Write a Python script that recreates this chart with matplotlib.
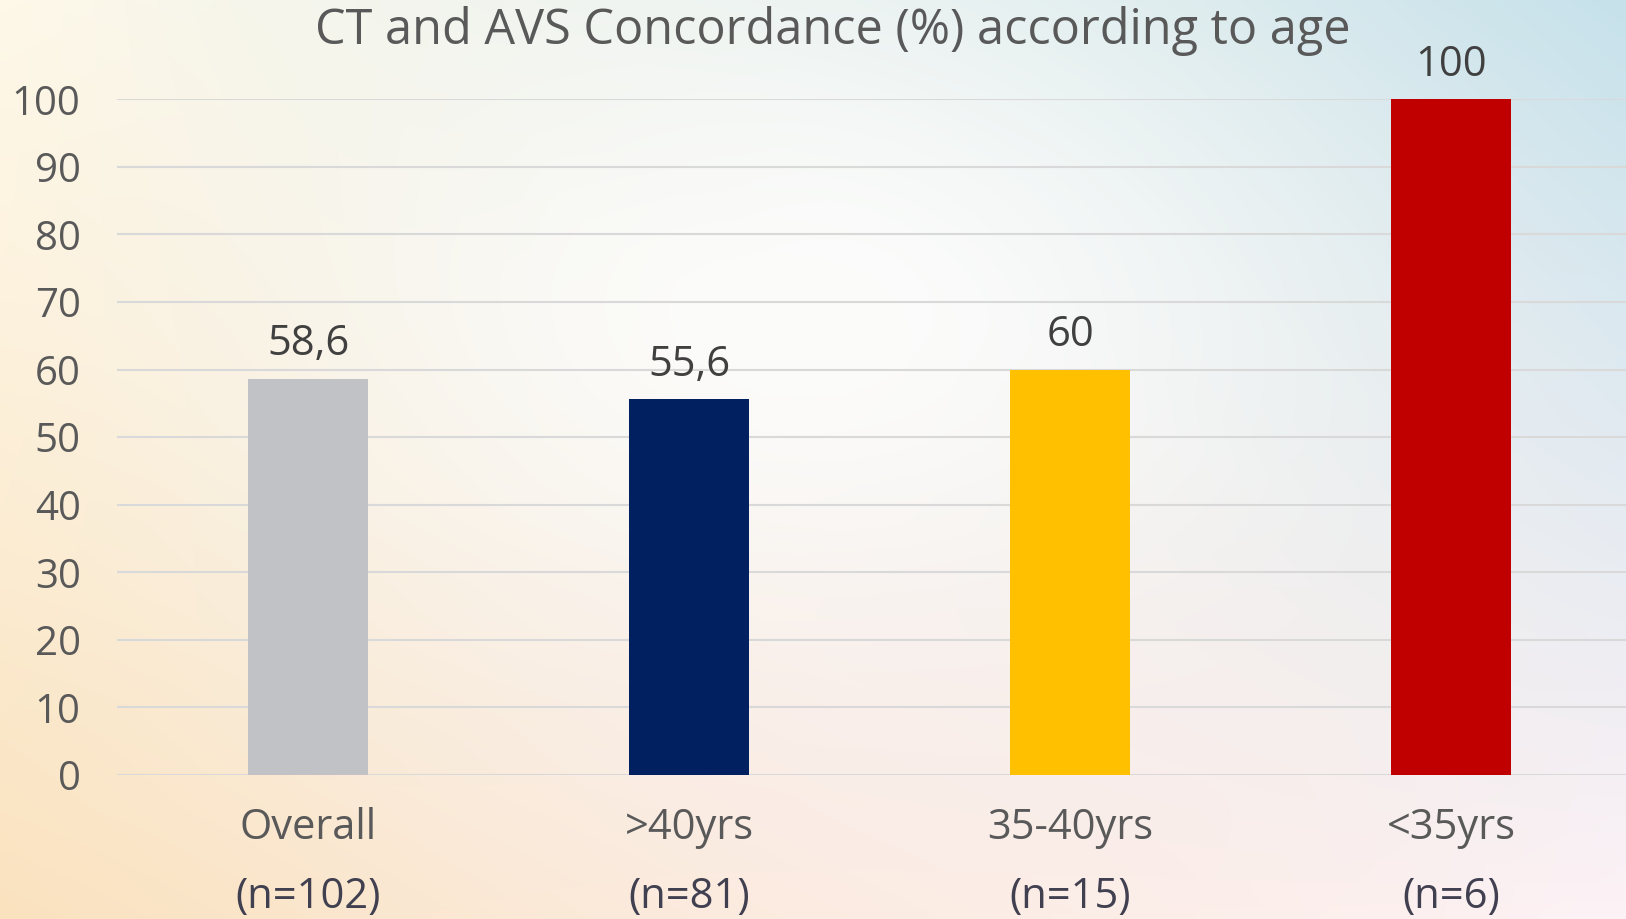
import numpy as np
import matplotlib
matplotlib.use("Agg")
from matplotlib import pyplot as plt
from matplotlib.transforms import blended_transform_factory

categories = ["Overall", ">40yrs", "35-40yrs", "<35yrs"]
sample_sizes = ["(n=102)", "(n=81)", "(n=15)", "(n=6)"]
concordance = [58.6, 55.6, 60, 100]
value_labels = ["58,6", "55,6", "60", "100"]
bar_colors = ["#C0C2C6", "#002060", "#FFC000", "#C00000"]

plt.rcParams['font.family'] = ['Open Sans', 'DejaVu Sans']

W, H = 1626, 919
fig = plt.figure(figsize=(W / 100, H / 100), dpi=100)

# soft slide-style background: warm left, blue top-right, pink bottom, white middle
gx, gy = np.meshgrid(np.linspace(0, 1, 400), np.linspace(0, 1, 230))
tl = np.array([254, 248, 232]) / 255
bl = np.array([250, 226, 190]) / 255
tr = np.array([196, 224, 234]) / 255
br = np.array([253, 242, 246]) / 255
bg = (tl * ((1 - gx) * (1 - gy))[..., None] + tr * (gx * (1 - gy))[..., None]
      + bl * ((1 - gx) * gy)[..., None] + br * (gx * gy)[..., None])
blob = np.exp(-(((gx - 0.5) / 0.33) ** 2 + ((gy - 0.35) / 0.4) ** 2))[..., None]
bg = bg * (1 - 0.85 * blob) + 0.85 * blob
pink = np.exp(-(((gx - 0.55) / 0.3) ** 2 + ((gy - 0.85) / 0.25) ** 2))[..., None]
bg = bg * (1 - 0.35 * pink) + np.array([252, 236, 240]) / 255 * 0.35 * pink
bgax = fig.add_axes([0, 0, 1, 1], zorder=-10)
bgax.imshow(bg, aspect='auto', extent=[0, 1, 0, 1], interpolation='bicubic')
bgax.axis('off')

left = 116.7 / W
bottom = (H - 775) / H
top = (H - 99.3) / H
ax = fig.add_axes([left, bottom, 1 - left, top - bottom])
ax.patch.set_alpha(0)

x = np.arange(len(categories))
ax.bar(x, concordance, width=0.315, color=bar_colors, zorder=3)

ax.set_xlim(-0.502, 3.458)
ax.set_ylim(0, 100)
ax.set_yticks(np.arange(0, 101, 10))
ax.yaxis.grid(True, color="#D9D9D9", linewidth=1.5, zorder=0)
ax.set_axisbelow(True)
for s in ax.spines.values():
    s.set_visible(False)
ax.tick_params(axis='y', length=0, pad=26, labelsize=29, labelcolor="#595959")
ax.tick_params(axis='x', length=0)
ax.set_xticks(x)
ax.set_xticklabels([])

trans = blended_transform_factory(ax.transData, ax.transAxes)
ax_h_px = 775 - 99.3
for xi, cat, n in zip(x, categories, sample_sizes):
    ax.text(xi, -53 / ax_h_px, cat, transform=trans, ha='center', va='center',
            fontsize=30, color="#595959")
    ax.text(xi, -122 / ax_h_px, n, transform=trans, ha='center', va='center',
            fontsize=30, color="#404050")

for xi, v, lab in zip(x, concordance, value_labels):
    ax.annotate(lab, (xi, v), xytext=(0, 25), textcoords='offset points',
                ha='center', va='center', fontsize=30, color="#404040",
                annotation_clip=False)

fig.text(833 / W, 1 - 31 / H, "CT and AVS Concordance (%) according to age",
         ha='center', va='center', fontsize=35, color="#595959")

fig.savefig("out.png", dpi=100)
